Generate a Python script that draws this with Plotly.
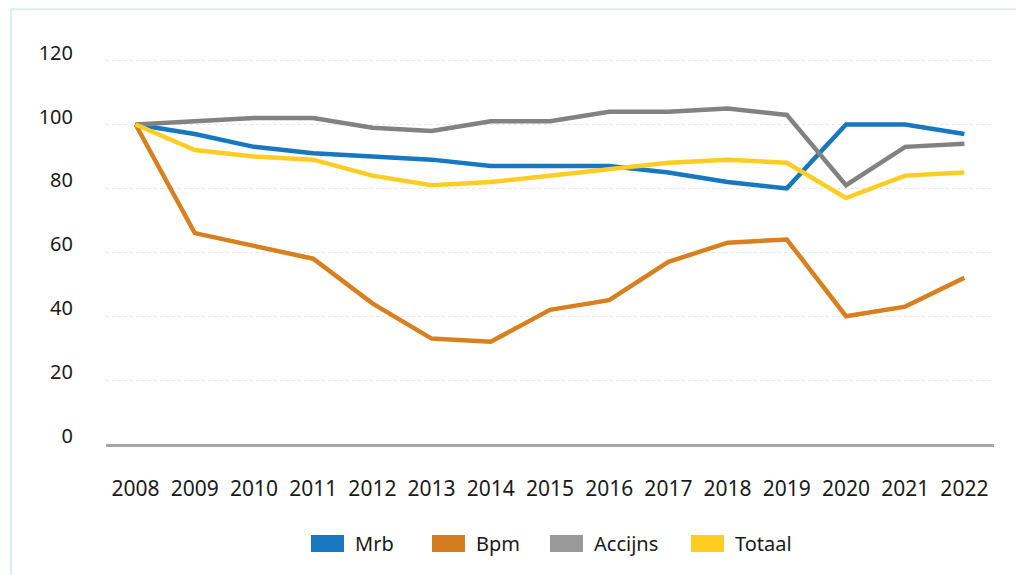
import plotly.graph_objects as go

# jaren en indexcijfers (2008 = 100)
jaren = [2008, 2009, 2010, 2011, 2012, 2013, 2014, 2015,
         2016, 2017, 2018, 2019, 2020, 2021, 2022]
mrb = [100, 97, 93, 91, 90, 89, 87, 87, 87, 85, 82, 80, 100, 100, 97]
bpm = [100, 66, 62, 58, 44, 33, 32, 42, 45, 57, 63, 64, 40, 43, 52]
accijns = [100, 101, 102, 102, 99, 98, 101, 101, 104, 104, 105, 103, 81, 93, 94]
totaal = [100, 92, 90, 89, 84, 81, 82, 84, 86, 88, 89, 88, 77, 84, 85]
y_ticks = [0, 20, 40, 60, 80, 100, 120]

series = [
    ('Mrb', mrb, '#1778c0', '#1778c0'),
    ('Bpm', bpm, '#d8801e', '#d57d1e'),
    ('Accijns', accijns, '#828282', '#999999'),
    ('Totaal', totaal, '#fecd24', '#fdcd22'),
]

W, H = 1016, 575
L, R, T, B = 106, 22, 51, 129
pw, ph = W - L - R, H - T - B


def px_x(p):
    """ pixel -> paper x """
    return (p - L) / pw


def px_y(p):
    """ pixel -> paper y """
    return (H - B - p) / ph


FONT = 'Noto Sans'
LEG_Y = 546

fig = go.Figure()
for name, vals, col, _ in series:
    fig.add_trace(go.Scatter(x=jaren, y=vals, mode='lines', name=name,
                             line=dict(color=col, width=4.5), showlegend=False))

# legenda: aparte legendes zodat de afstanden kloppen
legend_x = [306, 427, 545, 686]
shapes = []
for i, (name, _, _, lcol) in enumerate(series):
    key = 'legend' if i == 0 else f'legend{i + 1}'
    # het symbool zelf is doorzichtig, het blokje komt uit een shape
    fig.add_trace(go.Scatter(x=[None], y=[None], mode='lines', name=name,
                             line=dict(color='rgba(0,0,0,0)', width=5), legend=key))
    fig.update_layout({key: dict(x=px_x(legend_x[i]), xanchor='left',
                                 y=px_y(LEG_Y), yanchor='middle',
                                 orientation='h', itemwidth=39,
                                 bgcolor='rgba(0,0,0,0)',
                                 font=dict(family=FONT, size=20, color='#1a1a1a'))})
    shapes.append(dict(type='rect', xref='paper', yref='paper',
                       x0=px_x(legend_x[i] + 5), x1=px_x(legend_x[i] + 38),
                       y0=px_y(LEG_Y - 8.5), y1=px_y(LEG_Y + 8.5),
                       fillcolor=lcol, line=dict(width=0), layer='above'))

# onzichtbaar spoor om de iets hoger geplaatste aslabels te tonen
fig.add_trace(go.Scatter(x=[None], y=[None], yaxis='y2', showlegend=False))

# lichtblauwe kader linksboven
shapes += [
    dict(type='line', xref='paper', yref='paper', x0=px_x(11), x1=px_x(W + 5),
         y0=px_y(9), y1=px_y(9), line=dict(color='#dcecf8', width=2)),
    dict(type='line', xref='paper', yref='paper', x0=px_x(11), x1=px_x(11),
         y0=px_y(9), y1=px_y(H + 5), line=dict(color='#dcecf8', width=2)),
]

fig.update_layout(
    width=W, height=H,
    margin=dict(l=L, r=R, t=T, b=B),
    paper_bgcolor='white', plot_bgcolor='white',
    font=dict(family=FONT, size=20, color='#1a1a1a'),
    xaxis=dict(range=[2007.5, 2022.5], tickmode='array', tickvals=jaren,
               ticktext=[str(j) for j in jaren], showgrid=False, zeroline=False,
               showline=True, linecolor='#a6a6a6', linewidth=3,
               ticks='', ticklabelstandoff=24,
               tickfont=dict(family=FONT, size=21, color='#1a1a1a')),
    yaxis=dict(range=[0, 123], tickvals=y_ticks, showticklabels=False,
               showgrid=True, gridcolor='#e6e6e6', griddash='dot', gridwidth=1,
               zeroline=False, showline=False, ticks=''),
    yaxis2=dict(range=[-2.5, 120.5], overlaying='y', side='left',
                tickvals=y_ticks, showgrid=False, zeroline=False,
                showline=False, ticks='', ticklabelstandoff=32,
                tickfont=dict(family=FONT, size=20, color='#1a1a1a')),
    showlegend=True,
    shapes=shapes,
)

fig.write_html('out.html', config={'displayModeBar': False},
               post_script="document.body.style.margin='0';")
